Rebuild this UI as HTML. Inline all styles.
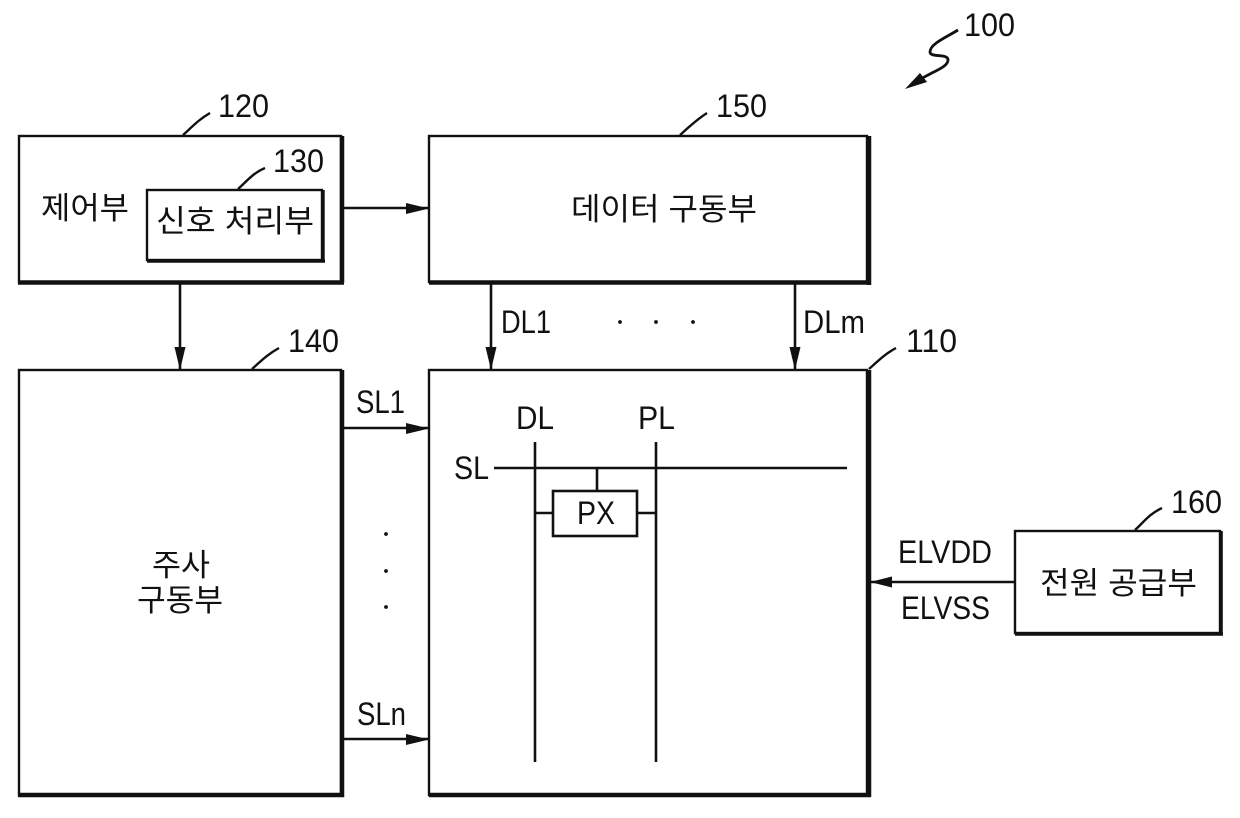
<!DOCTYPE html>
<html>
<head>
<meta charset="utf-8">
<style>
html,body{margin:0;padding:0;background:#fff;width:1240px;height:818px;overflow:hidden}
svg{display:block}
text{font-family:"Liberation Sans","Noto Sans CJK KR","NanumGothic",sans-serif;fill:#111}
.k{font-size:31px}
.n{font-size:32px}
.l{font-size:32px}
.t{fill:none;stroke:#111;stroke-width:2.4}
.b{fill:none;stroke:#111;stroke-width:4.5}
.w{fill:none;stroke:#111;stroke-width:2.6}
.c{fill:none;stroke:#111;stroke-width:2.4}
.a{fill:#111;stroke:none}
</style>
</head>
<body>
<svg width="1240" height="818" viewBox="0 0 1240 818" xmlns="http://www.w3.org/2000/svg">
<rect width="1240" height="818" fill="#fff"/>

<!-- Box 120 -->
<rect class="t" x="19" y="136" width="322" height="146"/>
<path class="b" d="M342 136V283M18 282.5H344"/>
<!-- Box 130 -->
<rect class="t" x="147" y="190" width="175" height="70"/>
<path class="b" d="M323 190V262M147 261H325" style="stroke-width:3.4"/>
<!-- Box 150 -->
<rect class="t" x="429" y="136" width="438" height="146"/>
<path class="b" d="M869 136V285M429 282.5H871"/>
<!-- Box 140 -->
<rect class="t" x="19" y="370" width="322" height="425"/>
<path class="b" d="M342 370V797M18 795H344"/>
<!-- Box 110 -->
<rect class="t" x="429" y="370" width="438" height="425"/>
<path class="b" d="M869 370V797M429 795H871"/>
<!-- Box 160 -->
<rect class="t" x="1015" y="531" width="205" height="102"/>
<path class="b" d="M1221 531V635M1015 634H1223" style="stroke-width:3.6"/>

<!-- Connectors -->
<path class="w" d="M344 208H429"/>
<polygon class="a" points="406,203 429,208.5 406,214"/>
<path class="w" d="M180 284V370"/>
<polygon class="a" points="174.500,347 185.500,347 180,370"/>
<path class="w" d="M491 284V370"/>
<polygon class="a" points="485.500,347 496.500,347 491,370"/>
<path class="w" d="M795 284V370"/>
<polygon class="a" points="789.500,347 800.500,347 795,370"/>
<path class="w" d="M344 428H429"/>
<polygon class="a" points="406,423 429,428.500 406,434"/>
<path class="w" d="M344 739H429"/>
<polygon class="a" points="406,734 429,739.500 406,745"/>
<path class="w" d="M1015 582H870"/>
<polygon class="a" points="892,576.500 870,582 892,587.500"/>

<!-- Inner pixel diagram -->
<path class="w" d="M494 468H847M535 442V762M656 442V762M597 468V491M535 513H553M637 513H656"/>
<rect class="w" x="553" y="491" width="84" height="45"/>

<!-- Leader lines -->
<path class="c" d="M183 135C192 127 198 120 210 113"/>
<path class="c" d="M238 189C247 181 253 173 265 168"/>
<path class="c" d="M252 369C261 361 268 354 279 348"/>
<path class="c" d="M680 135C689 127 696 120 707 113"/>
<path class="c" d="M869 369C878 361 885 354 896 348"/>
<path class="c" d="M1135 530C1143 523 1149 514 1162 508"/>

<!-- 100 squiggle -->
<path d="M958 30C945 38 930 44 930 52C930 58 948 53 948 60C948 67 934 71 921 79" fill="none" stroke="#111" stroke-width="2.8"/>
<polygon class="a" points="905,89 920,73 927,82"/>

<!-- Reference numerals -->
<text class="n" x="964" y="36" textLength="51" lengthAdjust="spacingAndGlyphs">100</text>
<text class="n" x="218" y="117" textLength="51" lengthAdjust="spacingAndGlyphs">120</text>
<text class="n" x="273" y="172" textLength="51" lengthAdjust="spacingAndGlyphs">130</text>
<text class="n" x="288" y="352" textLength="51" lengthAdjust="spacingAndGlyphs">140</text>
<text class="n" x="716" y="117" textLength="51" lengthAdjust="spacingAndGlyphs">150</text>
<text class="n" x="906" y="352" textLength="51" lengthAdjust="spacingAndGlyphs">110</text>
<text class="n" x="1171" y="513" textLength="51" lengthAdjust="spacingAndGlyphs">160</text>

<!-- Korean labels -->
<text class="k" x="41" y="219" textLength="88" lengthAdjust="spacingAndGlyphs">제어부</text>
<text class="k" x="156" y="232" textLength="158" lengthAdjust="spacingAndGlyphs">신호 처리부</text>
<text class="k" x="571" y="220" textLength="186" lengthAdjust="spacingAndGlyphs">데이터 구동부</text>
<text class="k" x="152" y="576" textLength="58" lengthAdjust="spacingAndGlyphs">주사</text>
<text class="k" x="137" y="611" textLength="86" lengthAdjust="spacingAndGlyphs">구동부</text>
<text class="k" x="1040" y="594" textLength="157" lengthAdjust="spacingAndGlyphs">전원 공급부</text>

<!-- Signal labels -->
<text class="l" x="501" y="333" textLength="50" lengthAdjust="spacingAndGlyphs">DL1</text>
<text class="l" x="803" y="333" textLength="62" lengthAdjust="spacingAndGlyphs">DLm</text>
<text class="l" x="356" y="413" textLength="49" lengthAdjust="spacingAndGlyphs">SL1</text>
<text class="l" x="357" y="725" textLength="49" lengthAdjust="spacingAndGlyphs">SLn</text>
<text class="l" x="516" y="429" textLength="38" lengthAdjust="spacingAndGlyphs">DL</text>
<text class="l" x="638" y="429" textLength="37" lengthAdjust="spacingAndGlyphs">PL</text>
<text class="l" x="454" y="479" textLength="35" lengthAdjust="spacingAndGlyphs">SL</text>
<text class="l" x="577" y="524" textLength="38" lengthAdjust="spacingAndGlyphs">PX</text>
<text class="l" x="898" y="563" textLength="94" lengthAdjust="spacingAndGlyphs">ELVDD</text>
<text class="l" x="901" y="619" textLength="89" lengthAdjust="spacingAndGlyphs">ELVSS</text>

<!-- Ellipsis dots -->
<circle class="a" cx="620" cy="322" r="1.9"/>
<circle class="a" cx="656" cy="322" r="1.9"/>
<circle class="a" cx="693" cy="322" r="1.9"/>
<circle class="a" cx="386" cy="534" r="1.9"/>
<circle class="a" cx="386" cy="571" r="1.9"/>
<circle class="a" cx="386" cy="607" r="1.9"/>
</svg>
</body>
</html>
